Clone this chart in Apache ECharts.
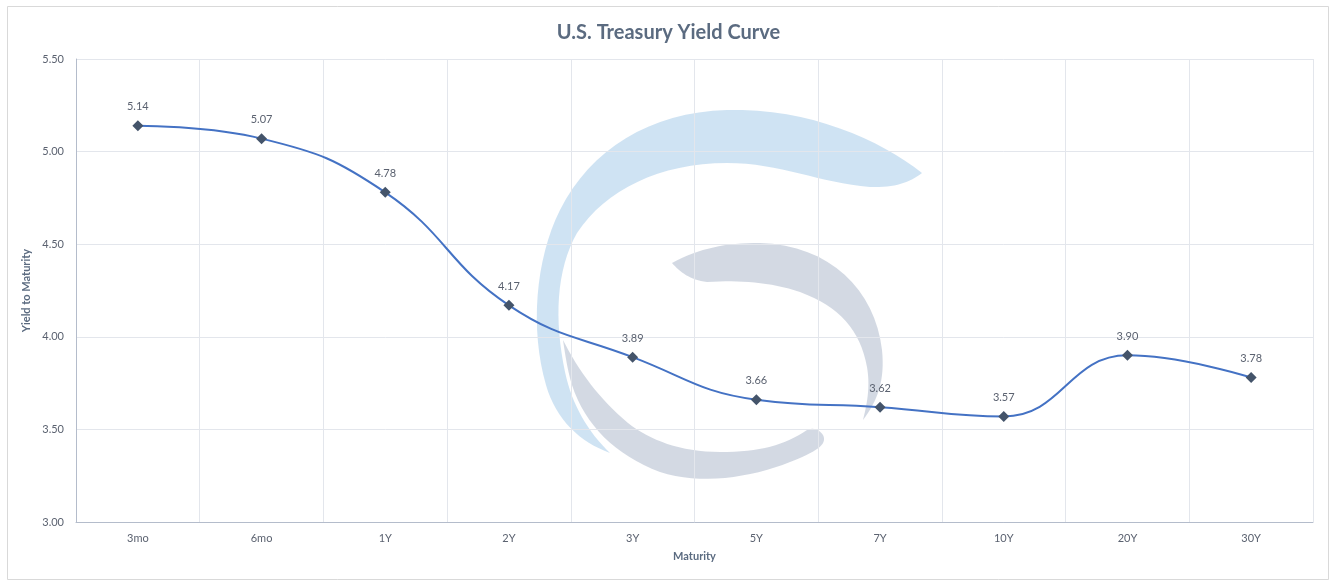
<!DOCTYPE html>
<html>
<head>
<meta charset="utf-8">
<script src="https://cdn.jsdelivr.net/npm/echarts@6/dist/echarts.min.js"></script>
<style>
html,body{margin:0;padding:0;background:#fff;}
#c{width:1337px;height:585px;}
</style>
</head>
<body>
<div id="c"></div>
<script>
var categories = ['3mo','6mo','1Y','2Y','3Y','5Y','7Y','10Y','20Y','30Y'];
var yields = [5.14, 5.07, 4.78, 4.17, 3.89, 3.66, 3.62, 3.57, 3.90, 3.78];
var yTicks = {min: 3.0, max: 5.5, interval: 0.5};

// watermark decoration: start point followed by cubic bezier segments [c1x,c1y,c2x,c2y,x,y]
function bez(start, segs){
  var pts = [start.slice()], p = start;
  segs.forEach(function(s){
    for (var i = 1; i <= 16; i++){
      var t = i/16, u = 1-t;
      pts.push([
        u*u*u*p[0] + 3*u*u*t*s[0] + 3*u*t*t*s[2] + t*t*t*s[4],
        u*u*u*p[1] + 3*u*u*t*s[1] + 3*u*t*t*s[3] + t*t*t*s[5]
      ]);
    }
    p = [s[4], s[5]];
  });
  return pts;
}
var blueArc = bez([922,173], [
  [880,140,810,108,727,110],[650,112,590,150,560,210],[535,260,530,330,546,385],[556,420,580,442,610,453],
  [588,432,572,405,565,372],[554,320,556,270,577,233],[605,190,660,163,727,163],[780,163,820,183,870,187],[895,188,910,182,922,173]
]);
var grayTop = bez([672,263], [
  [700,248,725,243,760,243],[830,245,875,290,882,350],[885,380,878,400,863,420],
  [868,400,870,385,867,367],[860,330,840,307,800,292],[770,282,740,280,707,282],[690,280,680,272,672,263]
]);
var grayBottom = bez([563,340], [
  [566,360,568,372,572,385],[585,425,615,455,660,472],[700,485,750,478,790,462],[815,452,828,445,823,435],
  [818,428,812,428,807,430],[785,445,760,452,720,452],[680,452,650,440,628,423],[600,400,578,370,563,340]
]);

var FONT = 'Lato, "Open Sans", sans-serif';
var chart = echarts.init(document.getElementById('c'), null, {renderer:'canvas'});
chart.setOption({
  backgroundColor: '#ffffff',
  animation: false,
  title: {
    text: 'U.S. Treasury Yield Curve',
    left: 'center', top: 18,
    textStyle: {fontFamily: FONT, fontSize: 20, fontWeight: 'bold', color: '#5b6b80'}
  },
  graphic: [
    {type:'rect', z:-10, silent:true, shape:{x:7.5,y:6.5,width:1321,height:573},
     style:{fill:'none', stroke:'#d9d9d9', lineWidth:1}},
    {type:'polygon', z:-5, silent:true, shape:{points: blueArc},
     style:{fill:'rgba(160,200,232,0.5)'}},
    {type:'polygon', z:-5, silent:true, shape:{points: grayTop},
     style:{fill:'rgba(168,180,200,0.5)'}},
    {type:'polygon', z:-5, silent:true, shape:{points: grayBottom},
     style:{fill:'rgba(168,180,200,0.5)'}}
  ],
  grid: {left: 76, right: 24, top: 59, bottom: 63, containLabel: false},
  xAxis: {
    type: 'category',
    data: categories,
    boundaryGap: true,
    name: 'Maturity',
    nameLocation: 'middle',
    nameGap: 29,
    nameTextStyle: {fontFamily: FONT, fontSize: 11, fontWeight: 'bold', color: '#5b6b80'},
    axisLine: {show: true, lineStyle: {color: '#b4bccb', width: 1}},
    axisTick: {show: false},
    axisLabel: {fontFamily: FONT, fontSize: 11, color: '#5b6270', margin: 11},
    splitLine: {show: true, lineStyle: {color: '#e3e6ec', width: 1}}
  },
  yAxis: {
    type: 'value',
    min: yTicks.min, max: yTicks.max, interval: yTicks.interval,
    name: 'Yield to Maturity',
    nameLocation: 'middle',
    nameGap: 44,
    nameMoveOverlap: false,
    nameRotate: 90,
    nameTextStyle: {fontFamily: FONT, fontSize: 11, fontWeight: 'bold', color: '#5b6b80'},
    axisLine: {show: true, lineStyle: {color: '#b4bccb', width: 1}},
    axisTick: {show: false},
    axisLabel: {fontFamily: FONT, fontSize: 11, color: '#5b6270', margin: 12,
      formatter: function(v){ return v.toFixed(2); }},
    splitLine: {show: true, lineStyle: {color: '#e3e6ec', width: 1}}
  },
  series: [{
    type: 'line',
    data: yields,
    smooth: 0.45,
    symbol: 'diamond',
    symbolSize: 11,
    itemStyle: {color: '#44546a'},
    lineStyle: {color: '#4472c4', width: 2},
    label: {
      show: true, position: 'top', distance: 8,
      fontFamily: FONT, fontSize: 11, color: '#5b6270',
      formatter: function(p){ return p.value.toFixed(2); }
    },
    z: 5
  }]
});
</script>
</body>
</html>
